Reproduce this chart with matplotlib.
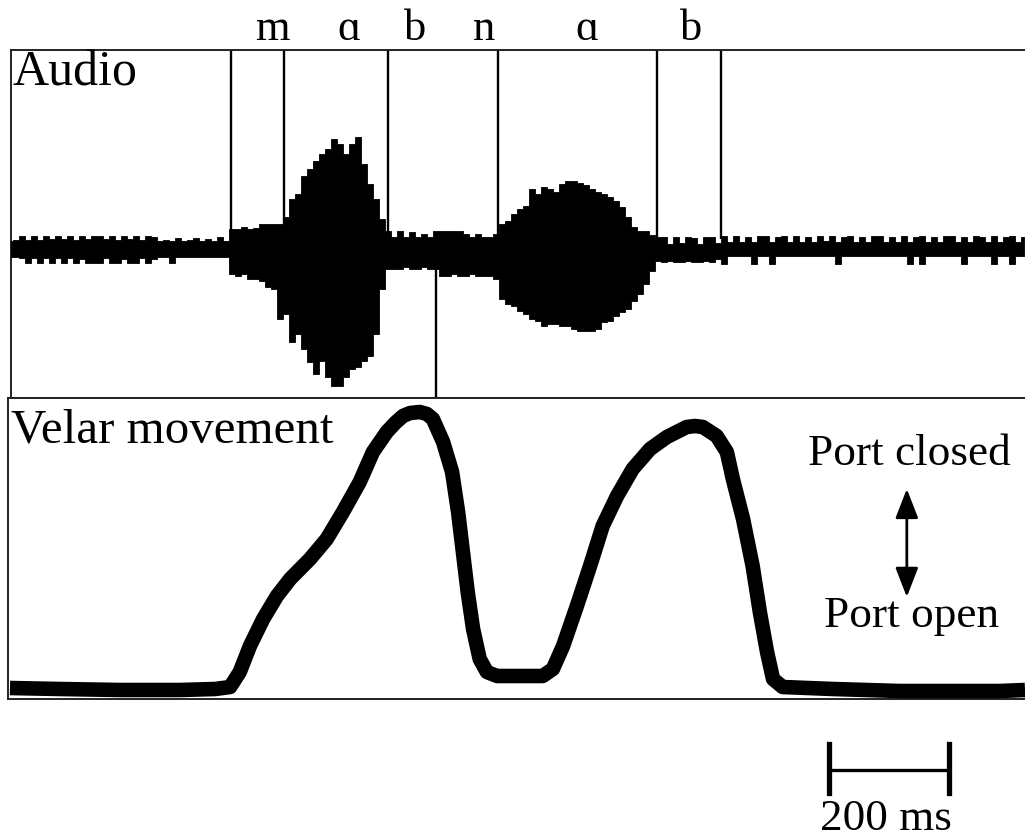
import numpy as np
import matplotlib.pyplot as plt
from matplotlib.transforms import blended_transform_factory

plt.rcParams['font.family'] = ['Liberation Serif', 'DejaVu Serif']

# ----------------------------------------------------
# Audio envelope, one sample every 10 ms
# upper / lower excursion from the zero line
# ----------------------------------------------------
AUDIO_STEP_MS = 10

# 0 - 360 ms : background noise
UP_A = [8, 9, 13, 9, 13, 9, 13, 10, 13, 10, 13, 9, 13, 10, 13, 13, 10, 13, 9, 13,
        10, 13, 9, 13, 12, 8, 9, 8, 11, 8, 9, 11, 8, 10, 8, 12, 8]
LO_A = [8, 8, 9, 14, 9, 14, 9, 14, 9, 14, 9, 14, 10, 14, 14, 14, 9, 14, 14, 10,
        14, 14, 9, 14, 10, 8, 8, 14, 8, 8, 8, 8, 8, 8, 8, 8, 8]

# 370 - 630 ms : "m a"
UP_B = [20, 20, 22, 20, 21, 25, 25, 25, 25, 32, 50, 55, 73, 80, 88, 95, 100, 110,
        105, 95, 105, 112, 85, 65, 50, 30, 18]
LO_B = [25, 27, 25, 30, 30, 32, 38, 40, 70, 65, 93, 85, 100, 113, 125, 112, 128, 137,
        137, 128, 120, 118, 112, 107, 85, 40, 20]

# 640 - 1080 ms : "b n a"
UP_C = [12, 18, 12, 17, 12, 15, 12, 18, 18, 18, 18, 18, 15, 12, 15, 12, 12, 15, 25, 28,
        35, 40, 43, 60, 55, 62, 60, 57, 65, 68, 68, 66, 64, 60, 57, 55, 52, 48, 42, 32,
        22, 18, 18, 14, 12]
LO_C = [20, 20, 18, 20, 20, 18, 20, 20, 27, 27, 25, 27, 27, 25, 27, 27, 27, 30, 50, 55,
        57, 62, 65, 70, 72, 77, 75, 75, 77, 77, 80, 82, 82, 82, 80, 73, 72, 67, 63, 60,
        52, 45, 35, 22, 12]

# 1090 - 1690 ms : "b" and trailing noise
UP_D = [12, 5, 12, 6, 12, 11, 5, 12, 12, 6,
        13, 7, 13, 7, 12, 7, 13, 13, 7, 12,
        13, 7, 13, 7, 12, 7, 13, 8, 13, 7,
        12, 13, 7, 12, 7, 13, 13, 7, 12, 7,
        13, 7, 12, 13, 7, 12, 7, 13, 13, 7,
        12, 7, 13, 12, 7, 13, 7, 12, 13, 7,
        12]
LO_D = [13, 12, 13, 13, 12, 13, 13, 12, 13, 10,
        15, 7, 7, 7, 7, 15, 7, 7, 15, 7,
        7, 7, 7, 7, 7, 7, 7, 7, 7, 15,
        7, 7, 7, 7, 7, 7, 7, 7, 7, 7,
        7, 15, 7, 15, 7, 7, 7, 7, 7, 7,
        15, 7, 7, 7, 7, 15, 7, 7, 15, 7,
        7]

# segment boundaries (ms) and labels
BOUNDS_MS = [368, 457, 630, 813, 1078, 1185]
CLOSURE_MS = 710
SEG_LABELS = ["m", "\u0251", "b", "n", "\u0251", "b"]
SEG_LABEL_MS = [437, 565, 675, 790, 962, 1135]

# ----------------------------------------------------
# Velar movement trace (ms, height)
# ----------------------------------------------------
VEL_T = [0, 83, 183, 283, 342, 367, 383, 400, 422, 445, 467, 500, 528, 555, 583,
         605, 628, 642, 655, 667, 683, 695, 705, 722, 737, 747, 755, 763, 772, 783,
         795, 812, 850, 888, 905, 922, 945, 967, 988, 1012, 1038, 1067, 1095, 1128,
         1142, 1155, 1178, 1195, 1205, 1222, 1238, 1250, 1262, 1272, 1288, 1372,
         1483, 1650, 1692]
VEL_V = [11, 10, 9, 9, 10, 12, 27, 53, 80, 103, 120, 140, 160, 187, 217,
         247, 267, 276, 283, 286, 287, 285, 280, 257, 227, 187, 147, 107, 70, 40,
         27, 23, 23, 23, 30, 53, 93, 133, 173, 203, 230, 250, 262, 272,
         273, 272, 263, 247, 220, 180, 133, 87, 47, 20, 12, 10,
         8, 8, 9]

SCALE_START_MS = 1365
SCALE_MS = 200

# ----------------------------------------------------
# Figure
# ----------------------------------------------------
up = np.array(UP_A + UP_B + UP_C + UP_D)
lo = np.array(LO_A + LO_B + LO_C + LO_D)
t_audio = np.arange(len(up)) * AUDIO_STEP_MS

fig = plt.figure(figsize=(10.25, 8.37), dpi=100)
W, H = 1025, 837

ax1 = fig.add_axes([11 / W, (H - 399) / H, (W - 11) / W, 348 / H])
ax2 = fig.add_axes([8 / W, (H - 700) / H, (W - 8) / W, 301 / H])

for ax in (ax1, ax2):
    ax.set_xticks([])
    ax.set_yticks([])
    ax.spines['right'].set_visible(False)
    for s in ('left', 'top', 'bottom'):
        ax.spines[s].set_linewidth(1.4)
        ax.spines[s].set_color('#222222')

ax1.set_xlim(1.7, 1692)
ax1.set_ylim(-149, 199)
ax2.set_xlim(-3.3, 1692)
ax2.set_ylim(0, 301)

# audio waveform
ax1.fill_between(t_audio, -lo, up, step='mid', color='black', lw=0.6,
                 edgecolor='black', zorder=3)
ax1.vlines(BOUNDS_MS, 10, 199, color='black', lw=1.7, zorder=2)
ax1.vlines(CLOSURE_MS, -149, -12, color='black', lw=1.7, zorder=2)

tr1 = blended_transform_factory(ax1.transData, ax1.transAxes)
for lab, x in zip(SEG_LABELS, SEG_LABEL_MS):
    ax1.text(x, 1.032, lab, transform=tr1, ha='center', va='baseline',
             fontsize=32, clip_on=False)

ax1.text(0.001, 0.902, "Audio", transform=ax1.transAxes, ha='left',
         va='baseline', fontsize=36)

# velar trace
ax2.plot(VEL_T, VEL_V, color='black', lw=10.5, solid_joinstyle='round',
         solid_capstyle='butt', zorder=3)
ax2.text(0.003, 0.854, "Velar movement", transform=ax2.transAxes, ha='left',
         va='baseline', fontsize=35.3)

tr2 = blended_transform_factory(ax2.transData, ax2.transAxes)
ax2.text(1500, 0.781, "Port closed", transform=tr2, ha='center',
         va='baseline', fontsize=32.6)
ax2.text(1502, 0.243, "Port open", transform=tr2, ha='center',
         va='baseline', fontsize=32.6)
ax2.annotate('', xy=(1495, 0.339), xytext=(1495, 0.698), xycoords=tr2,
             textcoords=tr2,
             arrowprops=dict(arrowstyle='<|-|>,head_length=1.8,head_width=0.7',
                             lw=2, color='black', shrinkA=0, shrinkB=0))

# scale bar
x0, x1 = SCALE_START_MS, SCALE_START_MS + SCALE_MS
ax2.plot([x0, x1], [-0.236, -0.236], transform=tr2, color='black', lw=2.4,
         clip_on=False)
ax2.plot([x0, x0], [-0.150, -0.312], transform=tr2, color='black', lw=3.8,
         clip_on=False)
ax2.plot([x1, x1], [-0.150, -0.312], transform=tr2, color='black', lw=3.8,
         clip_on=False)
ax2.text((x0 + x1) / 2 - 5, -0.432, f"{SCALE_MS} ms", transform=tr2,
         ha='center', va='baseline', fontsize=32.5, clip_on=False)

fig.savefig("out.png", dpi=100)
